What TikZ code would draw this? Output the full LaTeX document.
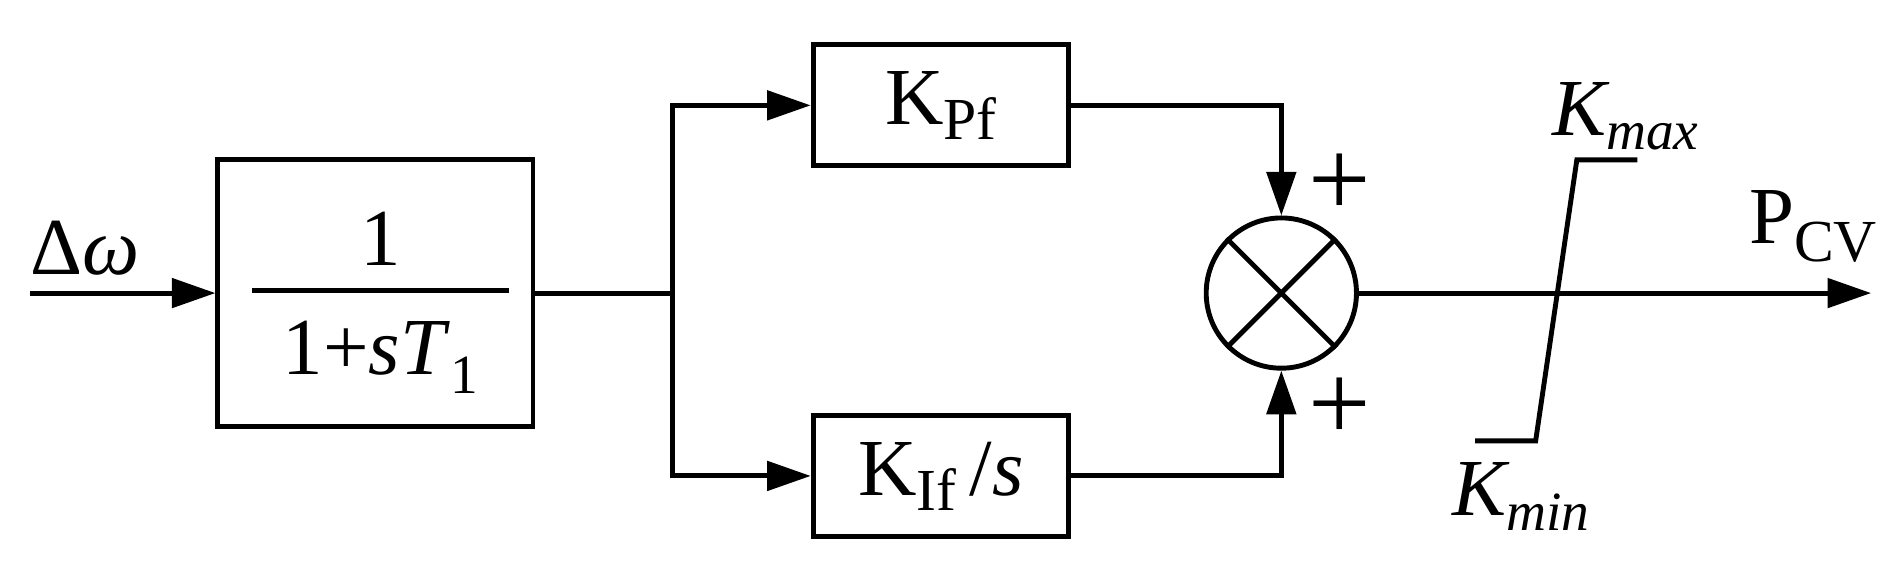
\documentclass[tikz,border=0pt]{standalone}
\usepackage{fontspec}
\setmainfont{Liberation Serif}
\usetikzlibrary{arrows.meta}
\begin{document}
\begin{tikzpicture}[x=0.01cm,y=-0.01cm,line width=1.15pt,
  blk/.style={draw,minimum width=2.11cm,minimum height=1cm,inner sep=0},
  arr/.style={-{Triangle[length=0.36cm,width=0.24cm]}},
  big/.style={font=\fontsize{19}{22}\selectfont},
  lab/.style={font=\fontsize{19}{22}\selectfont}]
\useasboundingbox (0,0) rectangle (1568,477);
\coordinate (in) at (25,242);
\node[draw,minimum width=2.6cm,minimum height=2.2cm,inner sep=0] (b1) at (310,242) {};
\draw (208,240) -- (420,240);
\node[big] (num) at (314,197) {1};
\node[big] (den) at (314,295) {1+\textit{s}\textit{T}\raisebox{-0.5ex}{\fontsize{13}{15}\selectfont 1}};
\node[lab] (dw) at (70,205) {Δ\textit{ω}};
\draw[arr] (in) -- (b1.west);
\coordinate (sp) at (555,242);
\node[blk,minimum height=1cm] (kp) at (777,87) {};
\node[big] (kpt) at (777,87) {K\raisebox{-0.4ex}{\fontsize{14}{16}\selectfont Pf}};
\node[blk] (ki) at (777,393) {};
\node[big] (kit) at (777,393) {K\raisebox{-0.4ex}{\fontsize{14}{16}\selectfont If}\,/\textit{s}};
\draw (b1.east) -- (sp);
\draw[arr] (sp) |- (kp.west);
\draw[arr] (sp) |- (ki.west);
\node[draw,circle,minimum size=1.24cm,inner sep=0] (sum) at (1058,242) {};
\draw (sum.45) -- (sum.225) (sum.135) -- (sum.315);
\draw[arr] (kp.east) -| (sum.north);
\draw[arr] (ki.east) -| (sum.south);
\node[font=\fontsize{26}{28}\selectfont] (p1) at (1106,153) {+};
\node[font=\fontsize{26}{28}\selectfont] (p2) at (1106,338) {+};
\coordinate (out) at (1545,242);
\draw[arr] (sum.east) -- (out);
\node[big] (pcv) at (1497,187) {P\raisebox{-0.5ex}{\fontsize{14}{16}\selectfont CV}};
\coordinate (s1) at (1218,364);
\coordinate (s2) at (1268,364);
\coordinate (s3) at (1302,132);
\coordinate (s4) at (1352,132);
\draw (s1) -- (s2) -- (s3) -- (s4);
\node[lab] (kmax) at (1342,96) {\textit{K\raisebox{-0.4ex}{\fontsize{13}{15}\selectfont max}}};
\node[lab] (kmin) at (1256,410) {\textit{K\raisebox{-0.4ex}{\fontsize{13}{15}\selectfont min}}};
\end{tikzpicture}
\end{document}
